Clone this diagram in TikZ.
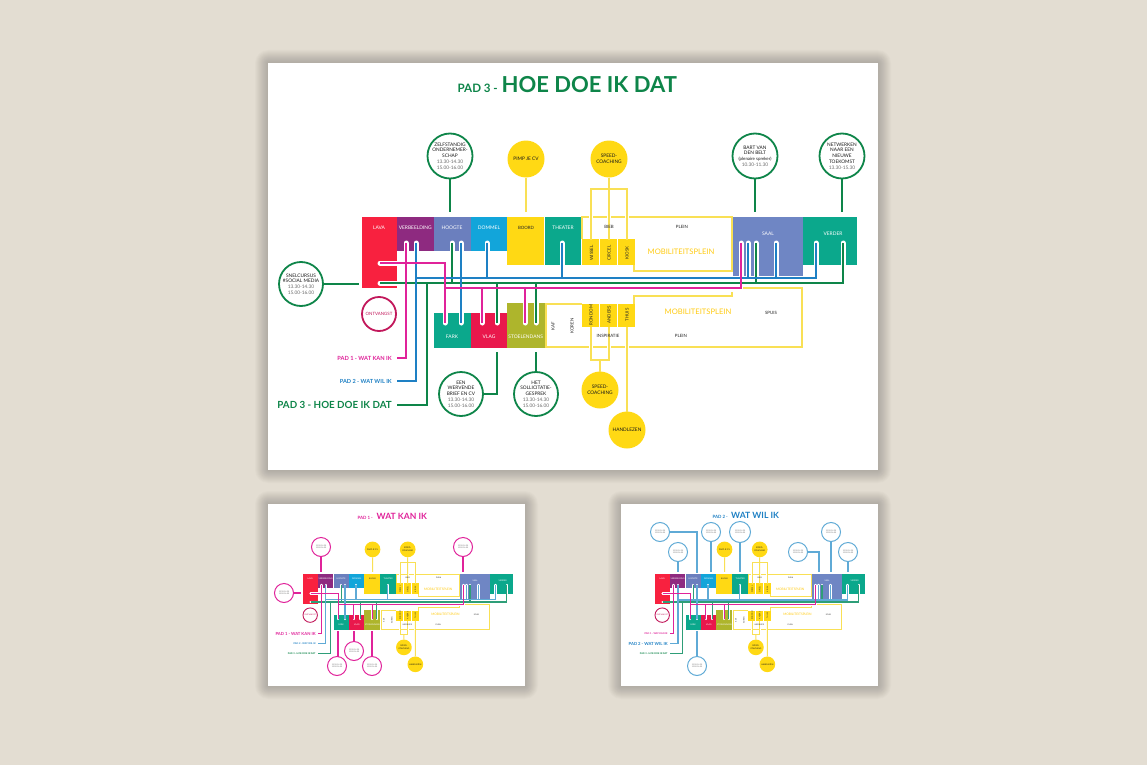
\documentclass[tikz,border=0pt]{standalone}
\usepackage{fontspec}
\setmainfont{Lato}
\definecolor{bgc}{HTML}{E3DDD2}
\definecolor{cLava}{HTML}{F8213F}
\definecolor{cVerb}{HTML}{8E2A80}
\definecolor{cHoog}{HTML}{6B7FBE}
\definecolor{cDom}{HTML}{12A5DA}
\definecolor{cTeal}{HTML}{0BA88C}
\definecolor{cSaal}{HTML}{6F86C4}
\definecolor{cVlag}{HTML}{E9184C}
\definecolor{cOlive}{HTML}{AEB52C}
\definecolor{cYel}{HTML}{FFD914}
\definecolor{cYelL}{HTML}{F9E055}
\definecolor{cGreen}{HTML}{0E8549}
\definecolor{cMag}{HTML}{E0239A}
\definecolor{cBlue}{HTML}{1E80C4}
\definecolor{cCrim}{HTML}{C2185B}
\definecolor{cPaleB}{HTML}{5FAAD6}
\definecolor{cPaleG}{HTML}{2E9E78}
\definecolor{cGrey}{HTML}{6A6A6A}
\newcommand\fsz[2]{\fontsize{#1}{#2}\selectfont}
\tikzset{
  roombox/.style={anchor=north west,inner sep=0pt,outer sep=0pt},
  rlab/.style={font=\fsz{4.9}{5.5},text=white,inner sep=0pt},
  dlab/.style={font=\fsz{4.4}{5},text=black!85,inner sep=0pt},
  vlab/.style={dlab,rotate=90},
  yline/.style={draw=cYelL,line width=\LS*2pt},
  casing/.style={draw=white,line width=\LS*5pt,line cap=round},
  lineA/.style={draw=\CA,line width=\LS*\WA pt},
  lineB/.style={draw=\CB,line width=\LS*\WB pt},
  lineC/.style={draw=\CC,line width=\LS*\WC pt},
  bub/.style={circle,draw,fill=white,inner sep=0pt,outer sep=0pt,align=center,text=black!90,font=\fsz{4.8}{5.8},line width=1.8pt},
  tbub/.style={bub,font=\fsz{1.9}{2.4},line width=1pt,text=black!70},
  ybub/.style={circle,fill=cYel,inner sep=0pt,outer sep=0pt,align=center,text=black!90,font=\fsz{4.8}{5.8}},
  conn/.style={line width=1.8pt},
  tconn/.style={line width=1.1pt},
}
\newcommand\room[6]{\pgfmathsetmacro\rw{#4-#2}\pgfmathsetmacro\rh{#5-#3}%
  \node[roombox,fill=#6,minimum width=\rw pt,minimum height=\rh pt] (#1) at (#2,#3) {};}
\newcommand\hrs{\textcolor{cGrey}{13.30-14.30}\\\textcolor{cGrey}{15.00-16.00}}
\newcommand\coremap{%
  % rooms
  \room{lava}{362}{217}{396.5}{288}{cLava}
  \room{verb}{397}{217}{433.5}{251}{cVerb}
  \room{hoog}{434}{217}{470.5}{251}{cHoog}
  \room{domm}{471}{217}{506.5}{251}{cDom}
  \room{boor}{507}{217}{544}{265}{cYel}
  \room{thea}{544.6}{217}{581}{265}{cTeal}
  \room{wiss}{582}{239}{599}{265}{cYel}
  \room{circ}{600}{239}{617}{265}{cYel}
  \room{kios}{618}{239}{635}{265}{cYel}
  \room{saal}{733}{217}{802.5}{276}{cSaal}
  \room{verd}{803}{217}{857}{265}{cTeal}
  \room{fark}{434}{313}{470.5}{348}{cTeal}
  \room{vlag}{471}{313}{506.5}{348}{cVlag}
  \room{stoe}{507}{303}{544.5}{348}{cOlive}
  \room{rond}{582}{304}{599}{327}{cYel}
  \room{ande}{600}{304}{617}{327}{cYel}
  \room{thui}{618}{304}{635}{327}{cYel}
  % plein outlines
  \coordinate (pa) at (582,239); \coordinate (pb) at (582,217); \coordinate (pc) at (732,217);
  \coordinate (pd) at (732,271); \coordinate (pe) at (634,271); \coordinate (pf) at (634,265);
  \draw[yline] (pa) -- (pb) -- (pc) -- (pd) -- (pe) -- (pf);
  \coordinate (qa) at (582,304); \coordinate (qb) at (546,304); \coordinate (qc) at (546,347);
  \coordinate (qd) at (802,347); \coordinate (qe) at (802,288); \coordinate (qf) at (743,288);
  \draw[yline] (qa) -- (qb) -- (qc) -- (qd) -- (qe) -- (qf);
  \coordinate (ra) at (634,304); \coordinate (rb) at (634,296); \coordinate (rc) at (732,296); \coordinate (rd) at (732,292);
  \draw[yline] (ra) -- (rb) -- (rc) -- (rd);
  % room labels
  \node[rlab] (tLava) at (379,228) {LAVA};
  \node[rlab] (tVerb) at (415.3,228) {VERBEELDING};
  \node[rlab] (tHoog) at (452,228) {HOOGTE};
  \node[rlab] (tDomm) at (489,228) {DOMMEL};
  \node[dlab] (tBoor) at (526,228) {BOORD};
  \node[rlab] (tThea) at (563,228) {THEATER};
  \node[dlab] (tPl1) at (682,227) {PLEIN};
  \node[rlab] (tSaal) at (768,234) {SAAL};
  \node[rlab] (tVerd) at (833,234) {VERDER};
  \node[vlab] (tWiss) at (591.5,253) {WISSEL};
  \node[vlab] (tCirc) at (609,253) {CIRCEL};
  \node[vlab] (tKios) at (627,253) {KIOSK};
  \node[inner sep=0pt,text=cYel!85!orange,font=\fsz{7.6}{9}] (tMob1) at (681,252) {MOBILITEITSPLEIN};
  \node[inner sep=0pt,text=cYel!85!orange,font=\fsz{7.6}{9}] (tMob2) at (698,312) {MOBILITEITSPLEIN};
  \node[rlab] (tFark) at (452,337) {FARK};
  \node[rlab] (tVlag) at (489,337) {VLAG};
  \node[rlab] (tStoe) at (525.7,337) {STOELENDANS};
  \node[vlab] (tKaf) at (553,326) {KAF};
  \node[vlab] (tKor) at (572,326) {KOREN};
  \node[vlab] (tRond) at (591,315) {RONDOM};
  \node[vlab] (tAnde) at (609,315) {ANDERS};
  \node[vlab] (tThui) at (627,315) {THUIS};
  \node[dlab] (tPl2) at (681,336) {PLEIN};
  \node[dlab] (tSpui) at (771,313) {SPUIS};
  % path junction coordinates
  \foreach \n/\x/\y in {a1/406/243,a2/741/243,a3/482/323,a4/525/323,a5/445/323,a6/380/263,
     b1/416/243,b2/487/243,b3/562/243,b4/461/243,b5/748/243,b6/776/243,b7/816/243,b8/461/323,
     c1/452/243,c2/756/243,c3/843/243,c4/380/283,c5/497/323,c6/536/323,
     ea/397/358,eb/397/381,ec/397/405,jc/427/283,
     ja/445/288}{\coordinate (\n) at (\x,\y);}
  % white casings inside rooms
  \foreach \p in {a1,b1,c1,b4,b2}{\draw[casing] (\p) -- ++(0,9);}
  \draw[casing] (b3) -- ++(0,23);
  \foreach \p in {a2,b5,c2,b6}{\draw[casing] (\p) -- ++(0,33.5);}
  \foreach \p in {b7,c3}{\draw[casing] (\p) -- ++(0,23);}
  \foreach \p in {a6,c4}{\draw[casing] (\p) -- ++(17,0);}
  \foreach \p in {a5,b8,a3,c5}{\draw[casing] (\p) -- ++(0,-11);}
  \foreach \p in {a4,c6}{\draw[casing] (\p) -- ++(0,-21);}
  % path 3
  \draw[lineC] (c4) -| (c3);
  \draw[lineC] (c1) -- (c1 |- c4);
  \draw[lineC] (c2) -- (c2 |- c4);
  \draw[lineC] (c5) -- (c5 |- c4);
  \draw[lineC] (c6) -- (c6 |- c4);
  \draw[lineC] (jc) |- (ec);
  % path 2
  \draw[lineB] (b1) |- (eb);
  \coordinate (jb) at (416,278);
  \draw[lineB] (jb) -| (b7);
  \draw[lineB] (b2) -- (b2 |- jb);
  \draw[lineB] (b3) -- (b3 |- jb);
  \draw[lineB] (b5) -- (b5 |- jb);
  \draw[lineB] (b6) -- (b6 |- jb);
  \draw[lineB] (b4) -- (b8);
  % path 1
  \draw[lineA] (a1) |- (ea);
  \draw[lineA] (a6) -| (a5);
  \draw[lineA] (ja) -| (a2);
  \draw[lineA] (a3) -- (a3 |- ja);
  \draw[lineA] (a4) -- (a4 |- ja);
  % path labels
  \node[anchor=east,inner sep=0pt,text=cMag,font=\FA] (labA) at (392,358) {PAD 1 - WAT KAN IK};
  \node[anchor=east,inner sep=0pt,text=cBlue,font=\FB] (labB) at (392,381) {PAD 2 - WAT WIL IK};
  \node[anchor=east,inner sep=0pt,text=cGreen,font=\FC] (labC) at (392,404.5) {PAD 3 - HOE DOE IK DAT};
  % yellow bubbles and their links
  \node[ybub,minimum size=37pt] (bPimp) at (526,159) {PIMP JE CV};
  \coordinate (kPimp) at (526,212);
  \draw[yline] (bPimp) -- (kPimp);
  \node[ybub,minimum size=37pt] (bSp1) at (609,159) {SPEED-\\COACHING};
  \coordinate (kCirc) at (609,240); \coordinate (kWiss) at (591,240); \coordinate (kKios) at (627,240); \coordinate (kTop) at (591,189); \coordinate (kTop2) at (627,189);
  \foreach \p in {591,609,627}{\draw[draw=white,line width=\LS*4.5pt] (\p,214) -- (\p,220);}
  \draw[yline] (bSp1) -- (kCirc);
  \draw[yline] (kWiss) -- (kTop) -- (kTop2) -- (kKios);
  \foreach \p in {591,609,627}{\draw[draw=white,line width=\LS*4.5pt] (\p,343) -- (\p,351);}
  \node[ybub,minimum size=37pt] (bSp2) at (600,390) {SPEED-\\COACHING};
  \node[ybub,minimum size=37pt] (bHand) at (627,430) {HANDLEZEN};
  \coordinate (kRond) at (591,327); \coordinate (kAnde) at (609,327); \coordinate (kThui) at (627,327); \coordinate (kBot) at (591,360); \coordinate (kBot2) at (609,360);
  \draw[yline] (kRond) -- (kBot) -- (kBot2) -- (kAnde);
  \draw[yline] (bSp2) -- (bSp2 |- kBot);
  \draw[yline] (bHand) -- (kThui);
  \node[dlab] (tBieb) at (609,227) {BIEB};
  \node[dlab] (tInsp) at (608,336) {INSPIRATIE};
  % ontvangst
  \node[circle,draw=cCrim,fill=white,line width=\LS*1.8pt,minimum size=34pt,inner sep=0pt,text=cCrim,font=\fsz{4.4}{5}] (bOnt) at (379,314) {ONTVANGST};
}
\newcommand\card[4]{%
  \foreach \e in {13,12,...,1}{\fill[black,opacity=.015,rounded corners=\e pt] (#1-\e,#2-\e) rectangle (#3+\e,#4+\e);}
  \fill[white] (#1,#2) rectangle (#3,#4);}
\begin{document}
\begin{tikzpicture}[x=1pt,y=-1pt]
\useasboundingbox (0,0) rectangle (1147,765);
\fill[bgc] (0,0) rectangle (1147,765);
\card{268}{63}{878}{470}
\card{268}{504}{525}{686}
\card{621}{504}{878}{686}
% ---------- main panel: PAD 3
\def\LS{1}\def\CA{cMag}\def\CB{cBlue}\def\CC{cGreen}\def\WA{2}\def\WB{2}\def\WC{2}
\def\FA{\bfseries\fsz{5.7}{7}}\def\FB{\bfseries\fsz{5.6}{7}}\def\FC{\bfseries\fsz{9.8}{12}}
\coremap
\node[inner sep=0pt,text=cGreen,font=\bfseries\fsz{11.6}{13},anchor=base east] (t3a) at (498,93) {PAD 3 -};
\node[inner sep=0pt,text=cGreen,font=\bfseries\fsz{22}{24},anchor=base west] (t3b) at (501.5,93) {HOE DOE IK DAT};
\node[bub,draw=cGreen,minimum size=45pt] (bZelf) at (450,156) {ZELFSTANDIG\\ONDERNEMER-\\SCHAP\\\hrs};
\node[bub,draw=cGreen,minimum size=45pt] (bBart) at (755,156) {BART VAN\\DEN BELT\\{\fsz{4.4}{5.8}(plenaire spreker)}\\\textcolor{cGrey}{10.30-11.30}};
\node[bub,draw=cGreen,minimum size=45pt] (bNetw) at (842,156) {NETWERKEN\\NAAR EEN\\NIEUWE\\TOEKOMST\\\textcolor{cGrey}{13.30-15.30}};
\node[bub,draw=cGreen,minimum size=44pt] (bSnel) at (301,284) {SNELCURSUS\\\#SOCIAL MEDIA\\\hrs};
\node[bub,draw=cGreen,minimum size=44pt] (bWerv) at (461,394) {EEN\\WERVENDE\\BRIEF EN CV\\\hrs};
\node[bub,draw=cGreen,minimum size=44pt] (bSoll) at (536,394) {HET\\SOLLICITATIE-\\GESPREK\\\hrs};
\coordinate (kZelf) at (450,212); \coordinate (kBart) at (755,212); \coordinate (kNetw) at (842,212);
\coordinate (kSnel) at (359,284); \coordinate (kWerv) at (497,352); \coordinate (kSoll) at (536,352);
\draw[conn,cGreen] (bZelf) -- (kZelf);
\draw[conn,cGreen] (bBart) -- (kBart);
\draw[conn,cGreen] (bNetw) -- (kNetw);
\draw[conn,cGreen] (bSnel) -- (kSnel);
\draw[conn,cGreen] (bWerv.east) -| (kWerv);
\draw[conn,cGreen] (bSoll) -- (kSoll);
% ---------- small panel: PAD 1
\def\LS{.5}\def\CA{cMag}\def\CB{cPaleB}\def\CC{cPaleG}\def\WA{2.4}\def\WB{2.4}\def\WC{2.2}
\def\FA{\bfseries\fsz{9.9}{12}}\def\FB{\bfseries\fsz{5.6}{7}}\def\FC{\bfseries\fsz{5.6}{7}}
\begin{scope}[shift={(149.5,482)},scale=.424,transform shape]
\coremap
\end{scope}
\node[inner sep=0pt,text=cMag,font=\bfseries\fsz{4.4}{5},anchor=base east] (t1a) at (373,519) {PAD 1 -};
\node[inner sep=0pt,text=cMag,font=\bfseries\fsz{8.6}{10},anchor=base west] (t1b) at (376.5,519) {WAT KAN IK};
\node[tbub,draw=cMag,minimum size=19pt] (p1a) at (321,547) {\hrs};
\node[tbub,draw=cMag,minimum size=19pt] (p1b) at (463,547) {\hrs};
\node[tbub,draw=cMag,minimum size=19pt] (p1c) at (284,593) {\hrs};
\node[tbub,draw=cMag,minimum size=19pt] (p1d) at (354,651) {\hrs};
\node[tbub,draw=cMag,minimum size=19pt] (p1e) at (337,666) {\hrs};
\node[tbub,draw=cMag,minimum size=19pt] (p1f) at (372,666) {\hrs};
\coordinate (k1a) at (321,572); \coordinate (k1b) at (463,572); \coordinate (k1c) at (301,593);
\coordinate (k1d) at (354,631); \coordinate (k1e) at (338,631); \coordinate (k1f) at (372,631);
\foreach \a/\b in {p1a/k1a,p1b/k1b,p1c/k1c,p1d/k1d,p1f/k1f}{\draw[tconn,cMag] (\a) -- (\b);}
\draw[tconn,cMag] (k1e |- p1e.north) -- (k1e);
% ---------- small panel: PAD 2
\def\LS{.5}\def\CA{cMag}\def\CB{cPaleB}\def\CC{cPaleG}\def\WA{2.2}\def\WB{2.6}\def\WC{2.2}
\def\FA{\bfseries\fsz{5.7}{7}}\def\FB{\bfseries\fsz{9.9}{12}}\def\FC{\bfseries\fsz{5.6}{7}}
\begin{scope}[shift={(501.5,482)},scale=.424,transform shape]
\coremap
\end{scope}
\node[inner sep=0pt,text=cBlue,font=\bfseries\fsz{4.4}{5},anchor=base east] (t2a) at (728,518) {PAD 2 -};
\node[inner sep=0pt,text=cBlue,font=\bfseries\fsz{8.6}{10},anchor=base west] (t2b) at (731,518) {WAT WIL IK};
\node[tbub,draw=cPaleB,minimum size=19pt] (p2a) at (660,532) {\hrs};
\node[tbub,draw=cPaleB,minimum size=19pt] (p2b) at (678,552) {\hrs};
\node[tbub,draw=cPaleB,minimum size=19pt] (p2c) at (711,532) {\hrs};
\node[tbub,draw=cPaleB,minimum size=21pt] (p2d) at (740,532) {\hrs};
\node[tbub,draw=cPaleB,minimum size=19pt] (p2e) at (798,552) {\hrs};
\node[tbub,draw=cPaleB,minimum size=19pt] (p2f) at (831,532) {\hrs};
\node[tbub,draw=cPaleB,minimum size=19pt] (p2g) at (848,552) {\hrs};
\node[tbub,draw=cPaleB,minimum size=19pt] (p2h) at (697,666) {\hrs};
\coordinate (k2a) at (697,573); \coordinate (k2b) at (678,572); \coordinate (k2c) at (711,572); \coordinate (k2d) at (740,572);
\coordinate (k2e) at (819,572); \coordinate (k2f) at (831,572); \coordinate (k2g) at (848,572); \coordinate (k2h) at (697,631);
\foreach \a/\b in {p2b/k2b,p2c/k2c,p2d/k2d,p2f/k2f,p2g/k2g,p2h/k2h}{\draw[tconn,cPaleB] (\a) -- (\b);}
\draw[tconn,cPaleB] (p2a.east) -| (k2a);
\draw[tconn,cPaleB] (p2e.east) -| (k2e);
\end{tikzpicture}
\end{document}
